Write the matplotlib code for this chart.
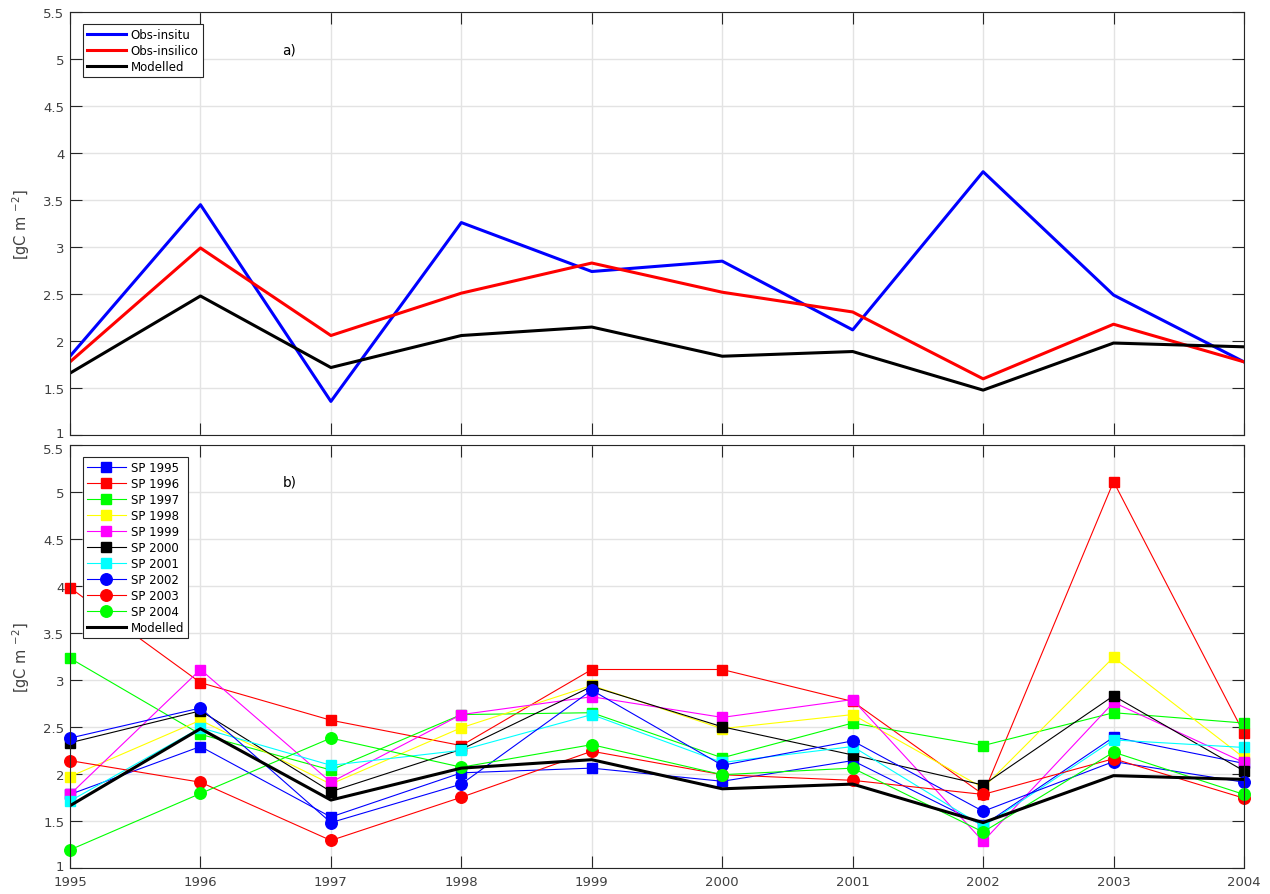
import matplotlib
matplotlib.use("Agg")
import matplotlib.pyplot as plt
from matplotlib.transforms import ScaledTranslation

years = [1995, 1996, 1997, 1998, 1999, 2000, 2001, 2002, 2003, 2004]

# Panel a) annual series
obs_insitu = [1.84, 3.45, 1.36, 3.26, 2.74, 2.85, 2.12, 3.80, 2.49, 1.78]
obs_insilico = [1.78, 2.99, 2.06, 2.51, 2.83, 2.52, 2.31, 1.60, 2.18, 1.78]
modelled = [1.66, 2.48, 1.72, 2.06, 2.15, 1.84, 1.89, 1.48, 1.98, 1.94]

# Panel b) single-parameter runs
sp_labels = ["SP 1995", "SP 1996", "SP 1997", "SP 1998", "SP 1999",
             "SP 2000", "SP 2001", "SP 2002", "SP 2003", "SP 2004"]
sp_values = {
    "SP 1995": [1.78, 2.29, 1.54, 2.01, 2.06, 1.92, 2.14, 1.45, 2.39, 2.11],
    "SP 1996": [3.98, 2.97, 2.57, 2.30, 3.11, 3.11, 2.77, 1.78, 5.11, 2.43],
    "SP 1997": [3.23, 2.42, 2.04, 2.63, 2.65, 2.17, 2.54, 2.30, 2.65, 2.54],
    "SP 1998": [1.97, 2.57, 1.89, 2.49, 2.94, 2.48, 2.63, 1.85, 3.24, 2.17],
    "SP 1999": [1.78, 3.11, 1.91, 2.63, 2.82, 2.60, 2.79, 1.28, 2.76, 2.12],
    "SP 2000": [2.33, 2.67, 1.81, 2.26, 2.93, 2.50, 2.20, 1.88, 2.83, 2.03],
    "SP 2001": [1.71, 2.49, 2.09, 2.25, 2.63, 2.12, 2.29, 1.44, 2.36, 2.28],
    "SP 2002": [2.38, 2.70, 1.48, 1.89, 2.89, 2.09, 2.35, 1.60, 2.13, 1.91],
    "SP 2003": [2.14, 1.91, 1.29, 1.75, 2.24, 1.99, 1.93, 1.78, 2.16, 1.74],
    "SP 2004": [1.19, 1.79, 2.38, 2.07, 2.31, 1.99, 2.06, 1.38, 2.23, 1.78],
}
sp_colors = ["#0000ff", "#ff0000", "#00ff00", "#ffff00", "#ff00ff",
             "#000000", "#00ffff", "#0000ff", "#ff0000", "#00ff00"]
sp_markers = ["s"] * 7 + ["o"] * 3

yticks = [1, 1.5, 2, 2.5, 3, 3.5, 4, 4.5, 5, 5.5]
ytick_labels = ["1", "1.5", "2", "2.5", "3", "3.5", "4", "4.5", "5", "5.5"]
ylabel = "[gC m $^{-2}$]"
text_color = "#262626"
label_color = "#404040"

plt.rcParams["font.family"] = ["DejaVu Sans"]

W, H = 1270, 895
fig = plt.figure(figsize=(W / 100, H / 100), dpi=100)

ax_left, ax_right = 70, 1244
ax_a = fig.add_axes([ax_left / W, 1 - 436.3 / H, (ax_right - ax_left) / W, 423.6 / H])
ax_b = fig.add_axes([ax_left / W, 1 - 868.7 / H, (ax_right - ax_left) / W, 422.7 / H])


def style_axes(ax, show_xlabels):
    ax.set_xlim(years[0], years[-1])
    ax.set_ylim(yticks[0], yticks[-1])
    ax.set_xticks(years)
    ax.set_yticks(yticks)
    ax.set_yticklabels(ytick_labels)
    if show_xlabels:
        ax.set_xticklabels([str(y) for y in years])
    else:
        ax.set_xticklabels([])
    ax.grid(True, color="#e3e3e3", linewidth=1.0)
    ax.set_axisbelow(True)
    ax.tick_params(direction="in", length=8.5, width=0.8, color=text_color,
                   labelcolor=label_color, labelsize=9.5,
                   top=True, right=True, pad=4)
    ax.tick_params(axis="x", pad=5)
    for s in ax.spines.values():
        s.set_color(text_color)
        s.set_linewidth(0.8)
    ax.set_ylabel(ylabel, fontsize=10.5, color=label_color)
    ax.yaxis.set_label_coords(-(ax_left - 32) / (ax_right - ax_left), 0.5)


# Panel a)
style_axes(ax_a, False)
ax_a.plot(years, obs_insitu, color="#0000ff", lw=2.2, label="Obs-insitu")
ax_a.plot(years, obs_insilico, color="#ff0000", lw=2.2, label="Obs-insilico")
ax_a.plot(years, modelled, color="#000000", lw=2.2, label="Modelled")
ax_a.text(1996.63, 5.10, "a)", fontsize=9.8, color="black", ha="left", va="center")

leg_kw = dict(loc="upper left", fontsize=8.5, frameon=True, fancybox=False,
              framealpha=1, edgecolor=text_color, borderaxespad=0,
              handlelength=3.3, handletextpad=0.4, borderpad=0.35,
              labelspacing=0.25)
leg_a = ax_a.legend(bbox_to_anchor=(12.7 / 1174, 1 - 12.3 / 423.6), **leg_kw)
leg_a.get_frame().set_linewidth(0.8)

# Panel b)
style_axes(ax_b, True)
for lab, col, mk in zip(sp_labels, sp_colors, sp_markers):
    ms = 7.2 if mk == "s" else 8.3
    ax_b.plot(years, sp_values[lab], color=col, lw=0.8, marker=mk,
              markersize=ms, markerfacecolor=col, markeredgecolor=col,
              label=lab, clip_on=False)
ax_b.plot(years, modelled, color="#000000", lw=2.2, label="Modelled")
ax_b.text(1996.63, 5.11, "b)", fontsize=9.8, color="black", ha="left", va="center")

leg_b = ax_b.legend(bbox_to_anchor=(12.7 / 1174, 1 - 12.0 / 422.7), **leg_kw)
leg_b.get_frame().set_linewidth(0.8)

# Keep the end labels of the stacked y axes from colliding
fig.canvas.draw()
up = ScaledTranslation(0, 3 / 100, fig.dpi_scale_trans)
down = ScaledTranslation(0, -3 / 100, fig.dpi_scale_trans)
ax_a.get_yticklabels()[0].set_transform(ax_a.get_yticklabels()[0].get_transform() + up)
ax_b.get_yticklabels()[0].set_transform(ax_b.get_yticklabels()[0].get_transform() + up)
ax_b.get_yticklabels()[-1].set_transform(ax_b.get_yticklabels()[-1].get_transform() + down)

fig.savefig("out.png", dpi=100, facecolor="white")
